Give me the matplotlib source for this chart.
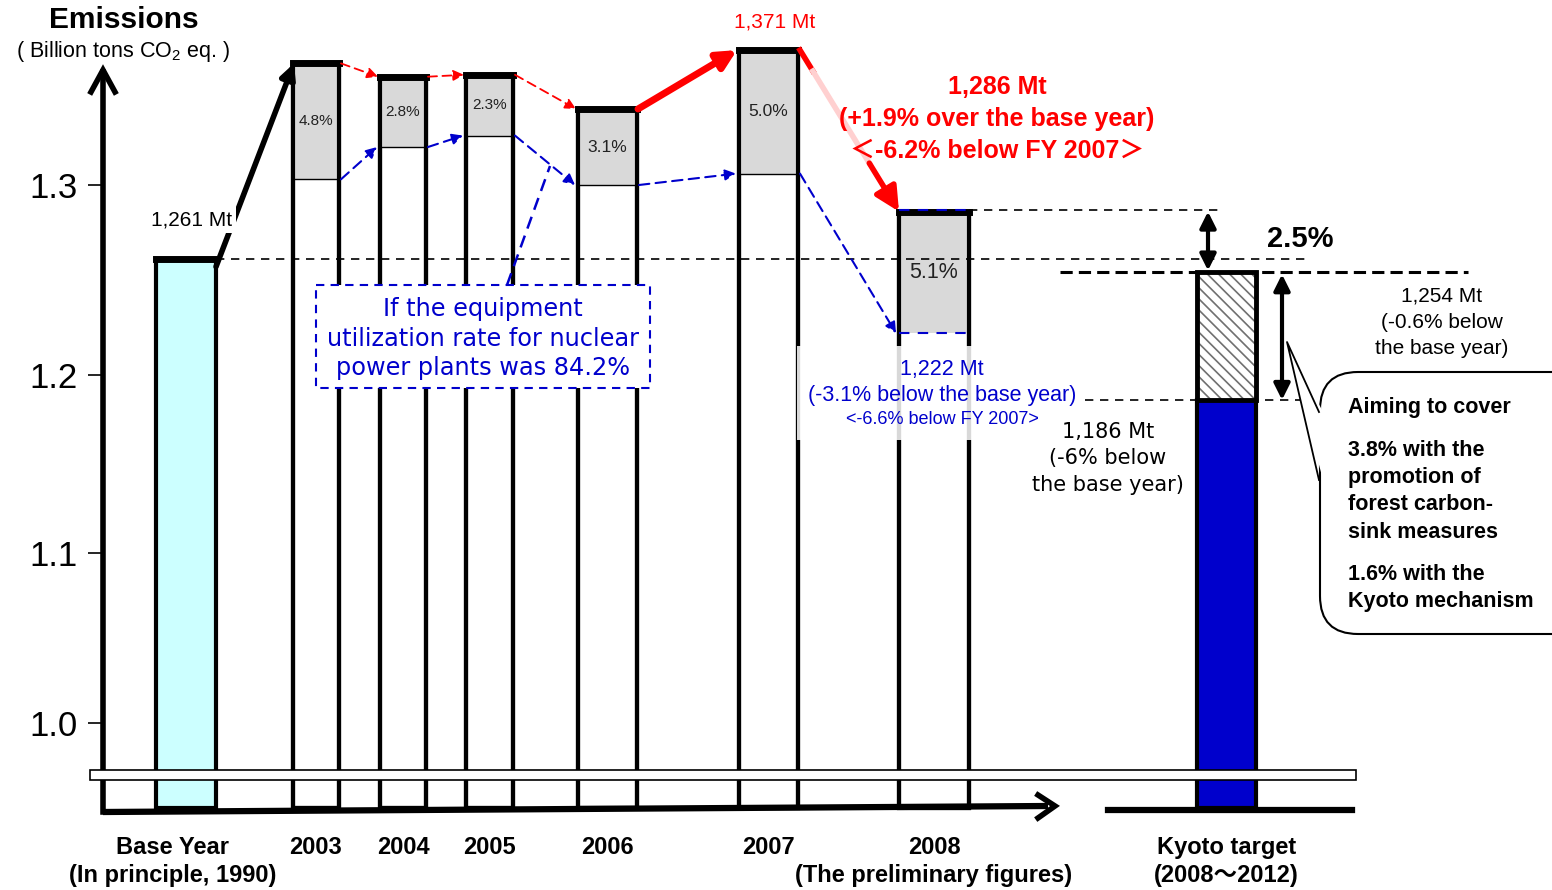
import numpy as np
import matplotlib
matplotlib.use('Agg')
import matplotlib.pyplot as plt
import matplotlib.transforms as mtransforms
from matplotlib.patches import Rectangle, FancyBboxPatch, Polygon

plt.rcParams['font.family'] = ['Liberation Sans', 'Noto Sans CJK JP', 'DejaVu Sans']
plt.rcParams['mathtext.fontset'] = 'custom'
plt.rcParams['mathtext.rm'] = 'Liberation Sans'
plt.rcParams['hatch.linewidth'] = 1.2

# ---- data (billion tons CO2 eq.) ----
categories = ['Base Year\n(In principle, 1990)', '2003', '2004', '2005', '2006', '2007',
              '2008\n(The preliminary figures)', 'Kyoto target\n(2008～2012)']
emissions = [1.261, 1.364, 1.357, 1.358, 1.340, 1.371, 1.286]
nuclear_case = [None, 1.303, 1.320, 1.326, 1.300, 1.306, 1.222]   # nuclear utilisation at 84.2%
nuclear_pct = ['', '4.8%', '2.8%', '2.3%', '3.1%', '5.0%', '5.1%']
kyoto_target = 1.186
kyoto_with_sinks = 1.254
y_ticks = [1.0, 1.1, 1.2, 1.3]
y_ticklabels = ['1.0', '1.1', '1.2', '1.3']

# ---- layout ----
bar_x = [186, 316, 403, 489.5, 607.5, 768.5, 934, 1226.5]
bar_w = [60, 46, 46, 47, 59, 59, 70, 59]
pct_size = [0, 11, 11, 11, 12.5, 12.5, 15.5]
FLOOR = 0.9
RED = '#FF0000'
BLUE = '#0000CC'

# broken / stretched value axis (value -> pixel row)
KNOT_V = [0.5, 0.9, 1.0, 1.1, 1.2, 1.3, 1.6]
KNOT_P = [1148, 808, 723, 553, 375, 185, -385]


def fwd(v):
    return -np.interp(v, KNOT_V, KNOT_P)


def inv(u):
    return np.interp(-np.asarray(u), KNOT_P[::-1], KNOT_V[::-1])


fig = plt.figure(figsize=(15.52, 8.90), dpi=100)
fig.patch.set_facecolor('white')
ax = fig.add_axes([0, 0, 1, 1])
ax.set_yscale('function', functions=(fwd, inv))
ax.set_xlim(0, 1552)
ax.set_ylim(float(inv(-890)), float(inv(0)))

for s in ['top', 'right', 'bottom']:
    ax.spines[s].set_visible(False)
ax.spines['left'].set_position(('data', 103))
ax.spines['left'].set_bounds(float(inv(-812)), float(inv(-72)))
ax.spines['left'].set_linewidth(4)
ax.set_yticks(y_ticks, labels=y_ticklabels)
ax.tick_params(axis='y', direction='out', length=11, width=1.2, pad=7, labelsize=25)
ax.spines['bottom'].set_position(('data', float(inv(-812))))
ax.set_xticks(bar_x, labels=categories)
ax.tick_params(axis='x', length=0, pad=17, labelsize=17)
for t in ax.get_xticklabels():
    t.set_fontweight('bold')
    t.set_linespacing(1.3)
# the base-year caption sits a little left of its bar
lab0 = ax.get_xticklabels()[0]
lab0.set_transform(lab0.get_transform() +
                   mtransforms.ScaledTranslation(-0.13, 0, fig.dpi_scale_trans))

# ---- bars ----
for i in range(7):
    x, w, top = bar_x[i], bar_w[i], emissions[i]
    face = '#CCFFFF' if i == 0 else 'white'
    ax.bar(x, top - FLOOR, bottom=FLOOR, width=w, facecolor=face, edgecolor='black',
           linewidth=3, zorder=2)
    if nuclear_case[i] is not None:
        nc = nuclear_case[i]
        ax.bar(x, top - nc, bottom=nc, width=w, facecolor='#D9D9D9',
               edgecolor='black' if i < 6 else 'none', linewidth=1, zorder=2.1)
        ax.bar(x, top - FLOOR, bottom=FLOOR, width=w, facecolor='none', edgecolor='black',
               linewidth=3, zorder=2.2)
        ax.text(x, (top + nc) / 2, nuclear_pct[i], ha='center', va='center',
                fontsize=pct_size[i], color='#222222', zorder=3)
    ax.plot([x - w / 2, x + w / 2], [top, top], color='black', lw=5,
            solid_capstyle='projecting', zorder=2.3)

# 2008: dashed blue edges of the nuclear case
x8, w8 = bar_x[6], bar_w[6]
ax.hlines([emissions[6] + 0.001, nuclear_case[6]], x8 - w8 / 2, x8 + w8 / 2, colors=BLUE,
          linestyles=(0, (5, 4)), lw=1.5, zorder=3)

# Kyoto target bar
xk, wk = bar_x[7], bar_w[7]
ax.bar(xk, kyoto_target - FLOOR, bottom=FLOOR, width=wk, facecolor=BLUE, edgecolor='black',
       linewidth=3, zorder=2)
ax.bar(xk, kyoto_with_sinks - kyoto_target, bottom=kyoto_target, width=wk, facecolor='white',
       edgecolor='#707070', hatch='\\\\\\', linewidth=0, zorder=2.1)
ax.bar(xk, kyoto_with_sinks - kyoto_target, bottom=kyoto_target, width=wk, facecolor='none',
       edgecolor='black', linewidth=3.5, zorder=2.2)

# ---- reference lines ----
ax.hlines(emissions[0], bar_x[0] + bar_w[0] / 2, 1305, colors='black',
          linestyles=(0, (5, 4)), lw=1.2, zorder=3)
ax.hlines(emissions[6] + 0.001, x8 + w8 / 2, 1220, colors='black',
          linestyles=(0, (5, 4)), lw=1.2, zorder=3)
ax.hlines(kyoto_with_sinks, 1060, 1468, colors='black',
          linestyles=(0, (4, 2)), lw=2.2, zorder=3)
ax.hlines(kyoto_target, 1085, 1300, colors='black',
          linestyles=(0, (5, 4)), lw=1.2, zorder=3)


def arrow(p0, p1, color, lw, ls='-', ms=15, style='-|>'):
    ax.annotate('', xy=p1, xytext=p0, zorder=4,
                arrowprops=dict(arrowstyle=style, color=color, lw=lw, linestyle=ls,
                                mutation_scale=ms, shrinkA=0, shrinkB=0))


def right(i):
    return bar_x[i] + bar_w[i] / 2


def left(i):
    return bar_x[i] - bar_w[i] / 2


# base year -> 2003
arrow((right(0), emissions[0] - 0.004), (left(1) + 1, emissions[1]), 'black', 4, ms=22)
# actual emissions path
for i in [1, 2, 3]:
    arrow((right(i) + 2, emissions[i]), (left(i + 1) - 2, emissions[i + 1]), RED, 1.3,
          ls=(0, (5, 3)), ms=16)
arrow((right(4) + 1, emissions[4]), (left(5) - 2, emissions[5]), RED, 5, ms=28)
# 2007 -> 2008 (fading)
a = np.array([right(5) + 2, emissions[5]])
b = np.array([left(6), emissions[6]])
pa, pb = a + 0.13 * (b - a), a + 0.70 * (b - a)
ax.plot([a[0], pa[0]], [a[1], pa[1]], color=RED, lw=4, zorder=4)
ax.plot([pa[0], pb[0]], [pa[1], pb[1]], color='#FFD0D0', lw=4, zorder=4)
arrow(tuple(pb), tuple(b), RED, 4, ms=36)
# nuclear case path
for i in [1, 2, 3, 4, 5]:
    arrow((right(i) + 2, nuclear_case[i]), (left(i + 1) - 3, nuclear_case[i + 1]), BLUE, 1.5,
          ls=(0, (5, 3)), ms=16)

# gap arrows
arrow((1208, kyoto_with_sinks + 0.001), (1208, emissions[6]), 'black', 3, ms=24, style='<|-|>')
arrow((1282, kyoto_target), (1282, kyoto_with_sinks - 0.001), 'black', 3, ms=24, style='<|-|>')

# ---- overlay in pixel coordinates ----
deco = fig.add_axes([0, 0, 1, 1], facecolor='none')
deco.set_xlim(0, 1552)
deco.set_ylim(890, 0)
deco.axis('off')

# axis arrows and break
deco.plot([91, 103, 115], [92, 70, 92], color='black', lw=4, solid_joinstyle='miter')
deco.plot([103, 1048], [812, 806], color='black', lw=4.5, solid_capstyle='butt')
deco.plot([1038, 1055, 1038], [795, 806, 818], color='black', lw=4, solid_joinstyle='miter')
deco.plot([1108, 1352], [810, 810], color='black', lw=4.5)
deco.add_patch(Rectangle((90, 770), 1266, 10, facecolor='white', edgecolor='black', lw=1.2))

# titles
deco.text(124, 20, 'Emissions', ha='center', va='center', fontsize=21.5, fontweight='bold')
deco.text(123, 52, '( Billion tons CO$_2$ eq. )', ha='center', va='center', fontsize=15.5)

deco.text(192, 220, '1,261 Mt', ha='center', va='center', fontsize=15,
          bbox=dict(boxstyle='square,pad=0.15', fc='white', ec='none'))
deco.text(775, 22, '1,371 Mt', ha='center', va='center', fontsize=15, color=RED)
for txt, yy in [('1,286 Mt', 87), ('(+1.9% over the base year)', 119),
                ('＜-6.2% below FY 2007＞', 151)]:
    deco.text(997, yy, txt, ha='center', va='center', fontsize=18, fontweight='bold', color=RED)

# nuclear note box
deco.add_patch(Rectangle((316, 285), 334, 103, facecolor='white', edgecolor=BLUE,
                         linestyle=(0, (4, 3)), lw=1.5, zorder=5))
deco.plot([507, 550], [285, 166], color=BLUE, lw=1.8, linestyle=(0, (5, 3)), zorder=5)
for txt, yy in [('If the equipment', 309), ('utilization rate for nuclear', 339),
                ('power plants was 84.2%', 368)]:
    deco.text(483, yy, txt, ha='center', va='center', fontsize=17.3, color=BLUE,
              family='DejaVu Sans', zorder=6)

# 2008 nuclear case note
deco.add_patch(Rectangle((797, 346), 283, 94, facecolor='white', alpha=0.85, edgecolor='none'))
deco.text(942, 370, '1,222 Mt', ha='center', va='center', fontsize=15.5, color=BLUE)
deco.text(942, 396, '(-3.1% below the base year)', ha='center', va='center', fontsize=15.5,
          color=BLUE)
deco.text(942, 420, '<-6.6% below FY 2007>', ha='center', va='center', fontsize=13, color=BLUE)

for txt, yy in [('1,186 Mt', 432), ('(-6% below', 458), ('the base year)', 485)]:
    deco.text(1108, yy, txt, ha='center', va='center', fontsize=15, family='DejaVu Sans')
for txt, yy in [('1,254 Mt', 296), ('(-0.6% below', 322), ('the base year)', 348)]:
    deco.text(1442, yy, txt, ha='center', va='center', fontsize=15)
deco.text(1300, 239, '2.5%', ha='center', va='center', fontsize=21, fontweight='bold')

# callout
deco.add_patch(FancyBboxPatch((1320, 372), 280, 262, boxstyle='round,pad=0,rounding_size=38',
                              facecolor='white', edgecolor='black', lw=1.5, zorder=5))
deco.add_patch(Polygon([(1323, 412), (1287, 342), (1323, 480)], closed=True,
                       facecolor='white', edgecolor='none', zorder=6))
deco.plot([1319, 1287, 1319], [412, 342, 480], color='black', lw=1.3, zorder=7)
for txt, yy in [('Aiming to cover', 408), ('3.8% with the', 450), ('promotion of', 478),
                ('forest carbon-', 505), ('sink measures', 532), ('1.6% with the', 575),
                ('Kyoto mechanism', 601)]:
    deco.text(1348, yy, txt, ha='left', va='center', fontsize=15.5, fontweight='bold', zorder=8)

fig.savefig('out.png', dpi=100)
